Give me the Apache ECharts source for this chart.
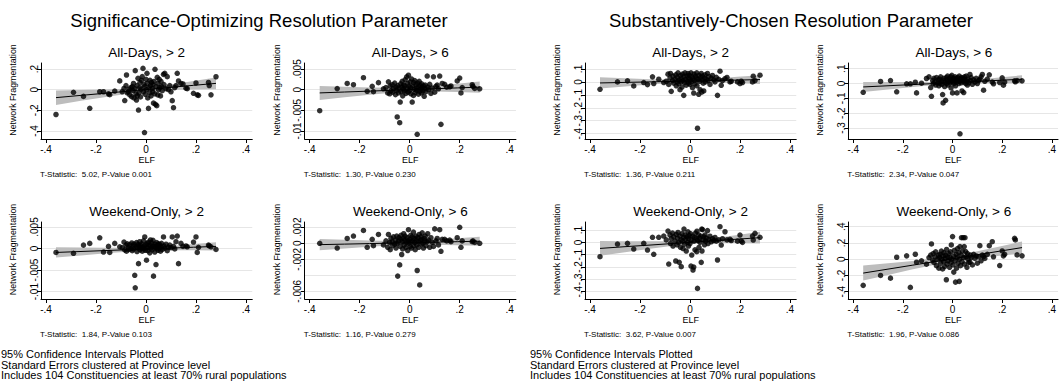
<!DOCTYPE html>
<html><head><meta charset="utf-8">
<script src="https://cdn.jsdelivr.net/npm/echarts@6/dist/echarts.min.js"></script>
<style>html,body{margin:0;padding:0;background:#fff}#c{width:1059px;height:385px}</style>
</head><body><div id="c"></div>
<script>
// ---------- text ----------
const mainTitles = ['Significance-Optimizing Resolution Parameter', 'Substantively-Chosen Resolution Parameter'];
const panelTitles = ['All-Days, > 2', 'All-Days, > 6', 'All-Days, > 2', 'All-Days, > 6',
  'Weekend-Only, > 2', 'Weekend-Only, > 6', 'Weekend-Only, > 2', 'Weekend-Only, > 6'];
const tStats = ['T-Statistic:  5.02, P-Value 0.001', 'T-Statistic:  1.30, P-Value 0.230',
  'T-Statistic:  1.36, P-Value 0.211', 'T-Statistic:  2.34, P-Value 0.047',
  'T-Statistic:  1.84, P-Value 0.103', 'T-Statistic:  1.16, P-Value 0.279',
  'T-Statistic:  3.62, P-Value 0.007', 'T-Statistic:  1.96, P-Value 0.086'];
const footnotes = ['95% Confidence Intervals Plotted', 'Standard Errors clustered at Province level',
  'Includes 104 Constituencies at least 70% rural populations'];
const xName = 'ELF';
const yName = 'Network Fragmentation';

// ---------- data ----------
const elf = [-0.36,-0.29,-0.25,-0.225,-0.185,-0.17,-0.15,-0.145,-0.125,-0.105,
 -0.095,-0.088,-0.085,-0.08,-0.078,-0.075,-0.07,-0.068,-0.065,-0.06,
 -0.057,-0.055,-0.052,-0.05,-0.048,-0.045,-0.043,-0.04,-0.038,-0.036,
 -0.035,-0.032,-0.03,-0.028,-0.025,-0.024,-0.022,-0.02,-0.018,-0.015,
 -0.012,-0.01,-0.008,-0.006,-0.005,-0.003,0,0.002,0.004,0.005,
 0.007,0.01,0.012,0.015,0.016,0.018,0.02,0.022,0.025,0.027,
 0.028,0.03,0.032,0.035,0.036,0.038,0.04,0.043,0.045,0.047,
 0.048,0.05,0.053,0.055,0.058,0.06,0.062,0.065,0.07,0.072,
 0.075,0.08,0.085,0.09,0.095,0.1,0.105,0.11,0.115,0.12,
 0.125,0.13,0.14,0.148,0.16,0.165,0.19,0.2,0.205,0.21,
 0.25,0.253,0.26,0.28];

const frag1 = [-0.24,-0.025,-0.065,-0.18,-0.02,-0.02,-0.04,-0.048,-0.013,0.085,
 -0.02,0.012,-0.105,0.04,0.142,-0.03,-0.02,0.005,-0.05,0.02,
 -0.068,0.03,-0.01,0.06,-0.08,0.01,0.184,-0.04,-0.1,0.04,
 -0.06,0.11,-0.197,-0.03,0.02,0.07,-0.07,0.005,0.09,0.126,
 0.206,-0.02,0.05,-0.415,0.03,-0.045,0.1,0,0.158,0.06,
 -0.08,-0.181,0.02,-0.03,0.09,0.04,-0.06,0.07,0.01,-0.02,
 0.05,-0.13,0.08,-0.04,0.197,-0.142,0.03,-0.155,0.12,-0.05,
 0.06,0,0.1,0.02,-0.06,0.08,0.03,-0.01,0.148,0.05,
 0.158,0.01,0.126,0,0.04,-0.02,-0.106,-0.174,0.02,0.04,
 0.158,0.084,0.06,0.055,0.015,0.01,-0.035,0.065,-0.05,-0.055,
 0.07,0.04,-0.05,0.125];
const frag2 = [-0.0051,0.00025,0.0015,0.0012,0.0029,-0.0004,0.0008,-0.0005,0.0017,0.0002,
 0.0005,-0.0008,0.0019,-0.001,0.0009,-0.0003,0.0012,-0.0006,0.0003,0.0016,
 -0.0012,0.0006,-0.0002,-0.0066,0.001,-0.0008,0.0004,-0.008,-0.003,0.0014,
 -0.0005,0.0007,0.002,-0.0015,0.0002,0.0011,-0.0003,0.0009,0.0024,-0.0009,
 0.0031,0.0003,0.0015,-0.0006,0.0035,0.0008,-0.0002,0.0019,0.0005,-0.001,
 0.0026,-0.003,0.0009,-0.0014,0.0017,0.0001,0.0022,-0.0007,0.0012,0.0004,
 -0.0002,-0.0108,0.0016,-0.0011,0.0007,0.002,-0.0004,0.001,0.0002,-0.0008,
 0.0014,0.0005,-0.0003,0.0009,-0.0016,0.0003,0.0011,-0.0005,0.0033,0.0006,
 0,0.0013,-0.0009,0.0004,0.0031,-0.0006,0.0008,0.0011,0.0002,0.0033,
 -0.0084,0.0015,0.0013,0.0006,0.0007,0.0009,0.0021,0.0028,-0.0008,0.0005,
 0.0012,0.0008,0.0003,0.0002];
const frag3 = [-0.057,0,0.008,-0.031,-0.005,-0.021,0.039,-0.013,0.021,-0.005,
 0.005,0.06,-0.02,0.03,0.065,-0.073,0.01,0.045,-0.01,0.02,
 0.055,-0.03,0,0.035,0.07,-0.015,0.015,-0.06,0.05,0,
 0.025,-0.04,0.06,0.01,-0.104,0.04,-0.005,0.07,0.02,-0.025,
 0.045,0.005,0.065,-0.01,0.03,0.05,-0.02,0.015,0.07,0,
 0.04,-0.045,0.025,-0.086,0.06,0.01,-0.015,0.045,0.03,0.07,
 -0.03,-0.358,0.02,-0.096,0.05,0.005,-0.06,0.035,0.065,-0.078,
 0.015,0.045,-0.01,-0.07,0.03,0.055,0,0.02,0.065,0.01,
 0.04,-0.02,0.03,0.05,0.015,0,0.035,-0.104,0.02,0.083,
 -0.026,0.01,0.025,0.034,0,0.005,0,-0.013,0.005,-0.005,
 0,0.044,0.01,0.052];
const frag4 = [-0.059,0.014,0.02,-0.056,-0.002,-0.002,0.009,-0.063,0.002,0.034,
 0.045,-0.027,-0.086,0.02,0,0.035,0.01,-0.01,0.04,0.005,
 0.025,-0.015,0.03,0,0.045,0.015,-0.005,-0.074,-0.131,0.02,
 0.035,-0.02,0.01,-0.113,0.04,0,0.025,0.05,-0.01,0.015,
 0.03,0.005,0.045,-0.03,0.02,0.055,-0.063,0.01,0.035,0,
 0.025,0.045,-0.015,0.03,0.01,-0.063,0.04,0.02,0,0.05,
 0.015,-0.339,0.03,0.005,0.04,-0.05,0.02,0.035,-0.061,0.01,
 0.045,0.025,0,0.05,0.015,-0.01,0.03,0.005,0.061,0.02,
 0.04,-0.005,0.025,0.01,0.035,0,0.02,0.03,0.045,0.061,
 -0.045,0.015,0.03,0.059,0.01,-0.002,0.007,0.038,-0.011,0.01,
 0.018,0.012,0.02,0.018];
const frag5 = [-0.0009,-0.0011,0.0008,0.0012,0.0025,-0.0008,0.0005,-0.0009,0.0012,0.0004,
 0.0002,0.0015,-0.0003,0.0008,-0.0006,0.0011,0.0003,-0.0002,0.0009,0,
 0.0013,-0.0005,0.0006,-0.0001,0.001,-0.0062,-0.0091,0.0004,0.0014,-0.0007,
 0.0002,0.0009,-0.0035,0.0005,0.0016,-0.0003,0.0007,0.0001,0.0011,-0.0006,
 0.0003,0.0018,0,0.0006,0.0027,-0.0004,0.0009,-0.0027,0.0012,0.0002,
 -0.0005,0.0015,0.0004,-0.001,0.0008,0.002,0.0001,0.0013,-0.0003,0.0006,
 0.0019,-0.0064,0.0005,-0.0008,0.001,0.0003,-0.0037,0.0014,0,0.0007,
 -0.0004,0.0011,0.0002,0.0009,-0.0006,0.0004,0.0012,-0.0002,0.0027,0.0006,
 0.0001,0.001,-0.0005,0.0003,0.0008,0.0002,0.0027,0.0005,-0.0001,0.0016,
 0.0029,-0.0035,0.0012,0.0005,0.0006,0.0004,0.0015,0.0027,-0.0009,0.0003,
 0.0008,0.0006,0.0004,-0.0002];
const frag6 = [0,-0.0006,0.0006,0.0009,0.0016,-0.0005,0.0005,-0.0003,0.0011,-0.0002,
 0.0003,-0.0005,0.0011,0.0001,-0.0008,0.0006,0.0002,-0.0003,0.0008,-0.0001,
 0.0004,-0.0006,0.0009,0,-0.0041,0.0003,0.0007,-0.0027,-0.0004,0.0005,
 0.001,-0.0014,0.0002,-0.0007,0.0006,0.0012,-0.0002,0.0004,0.0009,-0.0005,
 0.0001,0.0007,-0.0009,0.0003,0.0017,0,0.0005,-0.0004,0.001,0.0002,
 -0.0006,0.0008,0.0003,0.0014,-0.0003,0.0006,0.0001,-0.0008,0.0009,0.0004,
 -0.0002,-0.0034,0.0007,0.0002,-0.0005,0.0011,-0.0052,0.0004,0.0008,-0.0001,
 0.0005,0.0013,0,-0.0006,0.0006,0.0003,0.0009,-0.0003,0.0002,0.0012,
 0.0004,-0.0005,0.0007,0.0001,-0.0004,0.0018,0.0003,0.0006,-0.0002,0.0017,
 -0.001,0.0005,0.0005,0.0003,0.0004,0.0002,0.0007,0.002,-0.0005,0.0003,
 0.0002,0.0003,0.0001,0];
const frag7 = [-0.116,-0.014,-0.008,-0.054,-0.008,-0.062,0.041,-0.097,0.041,0.051,
 0.02,0.092,-0.176,0.06,-0.01,0.03,0.075,-0.03,0.045,0.01,
 -0.151,0.065,-0.02,0.035,0.08,0,-0.162,0.05,-0.04,0.02,
 -0.197,0.07,0.01,-0.05,0.04,0.108,-0.015,0.06,0.025,-0.07,
 0.045,0,0.085,-0.03,0.03,0.055,-0.01,0.07,-0.192,0.02,
 -0.103,0.05,-0.224,-0.2,0.01,0.04,-0.06,0.075,0.03,-0.076,
 0.09,-0.373,0.015,0.06,-0.04,0.035,0,0.05,-0.162,0.108,
 -0.07,0.103,0.02,0.045,-0.02,0.06,0.01,0.035,0.095,-0.01,
 0.025,0.05,0.005,0.03,0.015,0.04,0.01,-0.143,0.02,0.127,
 -0.022,0.03,0.086,0.02,0.024,0.015,0.01,0.059,0.011,0,
 0.051,0.019,0.073,0.041];
const frag8 = [-0.322,-0.2,-0.233,0.024,0.041,-0.347,0.061,-0.037,-0.02,-0.061,
 0.02,0.05,0.188,-0.01,0.07,-0.04,0.03,0.09,-0.08,0,
 0.05,-0.11,0.02,0.06,-0.05,0.1,0,-0.12,0.04,-0.03,
 0.08,-0.09,0.01,0.05,-0.253,0.12,-0.06,0.03,-0.02,0.07,
 -0.1,0.02,0.09,-0.04,0.176,0,0.278,-0.07,0.04,-0.159,
 0.11,-0.02,-0.282,0.06,-0.11,0.02,0.13,-0.05,0.08,-0.273,
 0,0.155,-0.08,0.05,0.265,-0.03,0.1,0.265,0.02,0.155,
 -0.06,0.265,0.094,0.03,-0.1,0.07,0,-0.04,-0.037,0.05,
 0.02,-0.07,0.06,0.01,0.04,-0.049,0.03,0.167,-0.02,0.05,
 0.033,0.01,0.06,0.167,0.216,0.03,-0.078,0.102,0.041,0.06,
 0.257,0.237,0.053,0.041];

// fitted line and 95% CI, read at these ELF values
const bandX = [-0.36,-0.26,-0.16,-0.06,0.02,0.1,0.19,0.28];
const fit1 = [-0.077,-0.055,-0.034,-0.012,0.005,0.023,0.042,0.061];
const lo1  = [-0.147,-0.107,-0.070,-0.035,-0.015,-0.004,0.001,0.005];
const hi1  = [-0.007,-0.003,0.002,0.011,0.025,0.050,0.083,0.117];
const fit2 = [-0.00079,-0.00057,-0.00035,-0.00013,0.00004,0.00022,0.00042,0.00061];
const lo2  = [-0.00249,-0.00185,-0.00123,-0.0007,-0.00047,-0.00045,-0.00057,-0.00075];
const hi2  = [0.00091,0.00071,0.00053,0.00044,0.00055,0.00089,0.00141,0.00197];
const fit3 = [-0.008,-0.004,0,0.004,0.007,0.011,0.014,0.018];
const lo3  = [-0.051,-0.036,-0.021,-0.008,-0.003,-0.005,-0.010,-0.016];
const hi3  = [0.035,0.028,0.021,0.016,0.018,0.026,0.039,0.052];
const fit4 = [-0.023,-0.015,-0.007,0.001,0.008,0.014,0.022,0.029];
const lo4  = [-0.057,-0.040,-0.024,-0.008,0,0.002,0.002,0.002];
const hi4  = [0.011,0.010,0.010,0.011,0.016,0.027,0.041,0.056];
const fit5 = [-0.0009,-0.00068,-0.00046,-0.00024,-0.00007,0.00011,0.00031,0.0005];
const lo5  = [-0.0021,-0.00159,-0.00111,-0.00068,-0.00047,-0.0004,-0.00041,-0.00047];
const hi5  = [0.0003,0.00023,0.00019,0.0002,0.00034,0.00062,0.00103,0.00147];
const fit6 = [-0.00017,-0.000103,-0.000036,0.000032,0.000085,0.000139,0.0002,0.00026];
const lo6  = [-0.00087,-0.00064,-0.00042,-0.00024,-0.00017,-0.00017,-0.00023,-0.00031];
const hi6  = [0.00053,0.00043,0.00035,0.0003,0.00034,0.00045,0.00063,0.00083];
const fit7 = [-0.049,-0.035,-0.022,-0.008,0.003,0.014,0.026,0.038];
const lo7  = [-0.109,-0.080,-0.052,-0.026,-0.012,-0.008,-0.008,-0.010];
const hi7  = [0.011,0.010,0.008,0.010,0.018,0.036,0.060,0.086];
const fit8 = [-0.171,-0.122,-0.073,-0.024,0.015,0.055,0.099,0.143];
const lo8  = [-0.263,-0.193,-0.125,-0.062,-0.020,0.013,0.042,0.068];
const hi8  = [-0.079,-0.051,-0.022,0.014,0.050,0.097,0.156,0.218];

// tick values
const xTicks = [-0.4,-0.2,0,0.2,0.4];
const yTicks1 = [-0.4,-0.2,0,0.2];
const yTicks2 = [-0.01,-0.005,0,0.005];
const yTicks3 = [-0.4,-0.3,-0.2,-0.1,0,0.1];
const yTicks4 = [-0.3,-0.2,-0.1,0,0.1];
const yTicks5 = [-0.01,-0.005,0,0.005];
const yTicks6 = [-0.006,-0.004,-0.002,0,0.002];
const yTicks7 = [-0.4,-0.3,-0.2,-0.1,0,0.1];
const yTicks8 = [-0.4,-0.2,0,0.2,0.4];

const panels = [
  {y: frag1, ticks: yTicks1, fit: fit1, lo: lo1, hi: hi1},
  {y: frag2, ticks: yTicks2, fit: fit2, lo: lo2, hi: hi2},
  {y: frag3, ticks: yTicks3, fit: fit3, lo: lo3, hi: hi3},
  {y: frag4, ticks: yTicks4, fit: fit4, lo: lo4, hi: hi4},
  {y: frag5, ticks: yTicks5, fit: fit5, lo: lo5, hi: hi5},
  {y: frag6, ticks: yTicks6, fit: fit6, lo: lo6, hi: hi6},
  {y: frag7, ticks: yTicks7, fit: fit7, lo: lo7, hi: hi7},
  {y: frag8, ticks: yTicks8, fit: fit8, lo: lo8, hi: hi8}
];

// ---------- layout (pixels / axis extents) ----------
const colLeft = [41, 304.7, 585, 848.3];
const rowTop = [63, 222];
const rowH = [76, 77];
const plotW = 211.25;
const xMin = -0.42, xMax = 0.425;
const yExt = [[-0.477,0.258],[-0.01194,0.00645],[-0.441,0.146],[-0.374,0.1385],
              [-0.0117,0.00616],[-0.00696,0.00266],[-0.459,0.165],[-0.49,0.458]];

const FONT = '"Liberation Sans", Arial, Helvetica, sans-serif';
function fmt(v) {
  let s = String(+(+v).toFixed(6));
  return s.replace(/^(-?)0\./, '$1.');
}

const grid = [], xAxis = [], yAxis = [], series = [], graphic = [];
panels.forEach(function (p, i) {
  const col = i % 4, row = Math.floor(i / 4);
  const left = colLeft[col], top = rowTop[row], h = rowH[row];
  grid.push({left: left, top: top, width: plotW, height: h});
  xAxis.push({
    type: 'value', gridIndex: i, min: xMin, max: xMax,
    axisLine: {show: true, onZero: false, lineStyle: {color: '#000', width: 1}},
    axisTick: {show: true, length: 4, customValues: xTicks, lineStyle: {color: '#000'}},
    axisLabel: {customValues: xTicks, formatter: fmt, margin: 5, fontSize: 10, color: '#000', fontFamily: FONT,
      hideOverlap: false, showMinLabel: true, showMaxLabel: true},
    splitLine: {show: false},
    name: xName, nameLocation: 'middle', nameGap: 16,
    nameTextStyle: {fontSize: 9, color: '#000', fontFamily: FONT}
  });
  yAxis.push({
    type: 'value', gridIndex: i, min: yExt[i][0], max: yExt[i][1],
    axisLine: {show: true, onZero: false, lineStyle: {color: '#000', width: 1}},
    axisTick: {show: true, length: 4, customValues: p.ticks, lineStyle: {color: '#000'}},
    axisLabel: {customValues: p.ticks, formatter: fmt, rotate: 90, margin: 2, fontSize: 10, color: '#000', fontFamily: FONT,
      hideOverlap: false, showMinLabel: true, showMaxLabel: true},
    splitLine: {show: true, lineStyle: {color: '#e6e6e6', width: 1}}
  });
  series.push({
    type: 'custom', xAxisIndex: i, yAxisIndex: i, silent: true, z: 1,
    data: bandX.map(function (x, k) { return [x, p.lo[k], p.hi[k]]; }),
    encode: {x: 0, y: [1, 2]},
    renderItem: function (params, api) {
      if (params.dataIndex !== 0) return null;
      const pts = [];
      for (let k = 0; k < bandX.length; k++) pts.push(api.coord([bandX[k], p.hi[k]]));
      for (let k = bandX.length - 1; k >= 0; k--) pts.push(api.coord([bandX[k], p.lo[k]]));
      return {type: 'polygon', shape: {points: pts}, style: {fill: '#bdbdbd'}};
    }
  });
  series.push({
    type: 'scatter', xAxisIndex: i, yAxisIndex: i, z: 2, silent: true,
    symbol: 'circle', symbolSize: 5.5,
    itemStyle: {color: '#000'},
    data: elf.map(function (x, k) { return [x, p.y[k]]; })
  });
  series.push({
    type: 'line', xAxisIndex: i, yAxisIndex: i, z: 3, silent: true,
    showSymbol: false, symbol: 'none',
    lineStyle: {color: '#000', width: 1},
    data: bandX.map(function (x, k) { return [x, p.fit[k]]; })
  });
  graphic.push({type: 'text', x: left + plotW / 2, y: row === 0 ? 52.5 : 211.7, silent: true,
    style: {text: panelTitles[i], align: 'center', verticalAlign: 'middle', fontSize: 13.5, fontFamily: FONT, fill: '#000'}});
  graphic.push({type: 'text', x: left - 1, y: row === 0 ? 174 : 334, silent: true,
    style: {text: tStats[i], align: 'left', verticalAlign: 'middle', fontSize: 8, fontFamily: FONT, fill: '#000'}});
  // y-axis title (rotated)
  graphic.push({type: 'text', x: left - 28, y: top + h / 2 - 11, rotation: Math.PI / 2, silent: true,
    style: {text: yName, align: 'center', verticalAlign: 'middle', fontSize: 8.8, fontFamily: FONT, fill: '#000'}});
});
graphic.push({type: 'text', x: 259, y: 20, silent: true,
  style: {text: mainTitles[0], align: 'center', verticalAlign: 'middle', fontSize: 18.5, fontFamily: FONT, fill: '#000'}});
graphic.push({type: 'text', x: 791, y: 20, silent: true,
  style: {text: mainTitles[1], align: 'center', verticalAlign: 'middle', fontSize: 18.5, fontFamily: FONT, fill: '#000'}});
[1, 530].forEach(function (fx) {
  footnotes.forEach(function (t, k) {
    graphic.push({type: 'text', x: fx, y: 354 + k * 10.5, silent: true,
      style: {text: t, align: 'left', verticalAlign: 'middle', fontSize: 11, fontFamily: FONT, fill: '#000'}});
  });
});

const chart = echarts.init(document.getElementById('c'), null, {renderer: 'svg'});
chart.setOption({
  animation: false,
  backgroundColor: '#fff',
  grid: grid, xAxis: xAxis, yAxis: yAxis, series: series, graphic: graphic
});
</script>
</body></html>
